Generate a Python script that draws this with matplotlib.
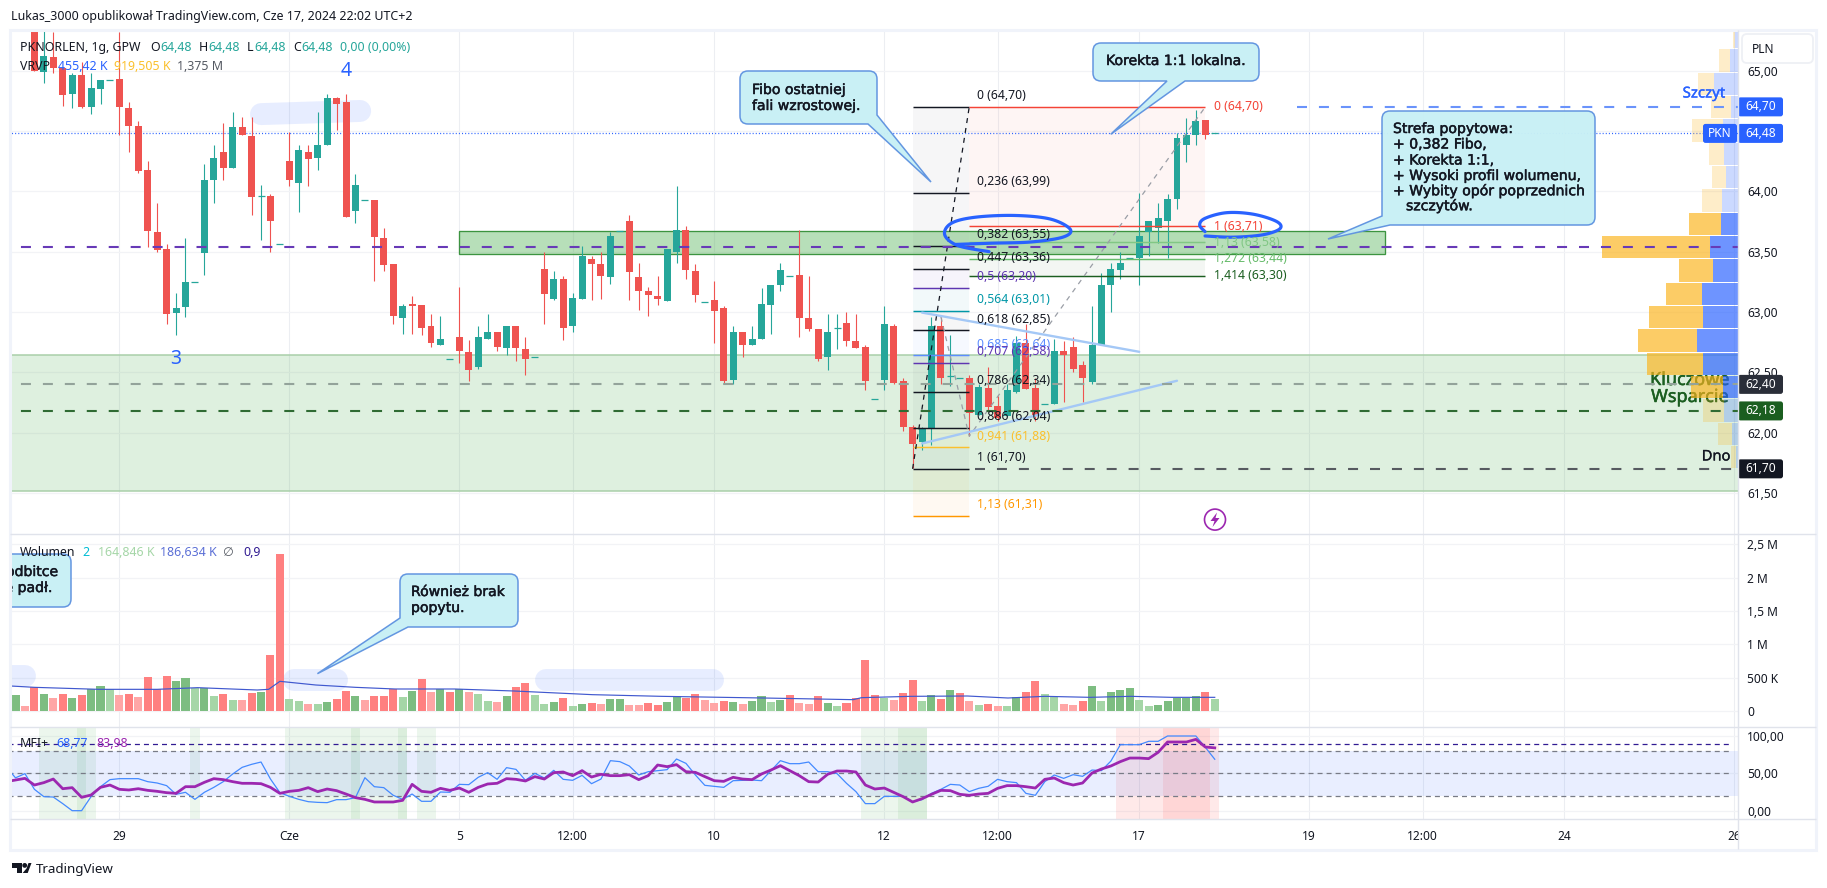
import numpy as np
import matplotlib
matplotlib.use("Agg")
import matplotlib.pyplot as plt
import matplotlib.patheffects as pe
from matplotlib.path import Path
from matplotlib.patches import PathPatch, Rectangle, Circle, Polygon, FancyBboxPatch
from matplotlib.transforms import Affine2D, blended_transform_factory, Bbox

plt.rcParams['font.family'] = ['Noto Sans', 'DejaVu Sans']
plt.rcParams['lines.scale_dashes'] = False

# ---------- data ----------
bars = np.arange(-2, 126)
opens = [65.70, 65.75,
 65.50, 64.99, 65.11, 65.02, 64.81, 64.96, 64.70, 64.85, 64.92, 64.93,
 64.69, 64.54, 64.18, 63.66, 63.52, 62.99, 63.04, 63.25, 63.49, 64.09,
 64.33, 64.19, 64.53, 64.46, 63.96, 63.96, 63.56, 64.25, 64.07, 64.33,
 64.28, 64.38, 64.77, 64.74, 63.84, 63.93, 63.93, 63.61, 63.40, 62.95,
 63.07, 63.06, 62.88, 62.73, 62.61, 62.79, 62.67, 62.54, 62.78, 62.83,
 62.70, 62.88, 62.69, 62.63, 63.36, 63.11, 63.27, 62.88, 63.11, 63.44,
 63.40, 63.29, 63.67, 63.75, 63.29, 63.17, 63.13, 63.09, 63.50, 63.68,
 63.34, 63.08, 63.10, 63.03, 62.44, 62.83, 62.73, 62.78, 63.06, 63.22,
 63.30, 63.31, 62.95, 62.86, 62.63, 62.87, 62.91, 62.76, 62.71, 62.28,
 62.44, 62.88, 62.43, 62.05, 61.92, 62.03, 62.88, 62.47, 62.45, 62.45,
 62.15, 62.37, 62.22, 62.14, 62.34, 62.74, 62.37, 62.24, 62.24, 62.68,
 62.71, 62.56, 62.42, 62.73, 63.22, 63.35, 63.45, 63.45, 63.66, 63.70,
 63.75, 63.94, 64.38, 64.47, 64.59, 64.48]
highs = [65.80, 65.90,
 65.55, 65.40, 65.32, 65.02, 64.98, 65.07, 64.98, 64.92, 64.92, 65.32,
 64.74, 64.58, 64.25, 63.90, 63.56, 63.16, 63.61, 63.25, 64.23, 64.38,
 64.57, 64.66, 64.62, 64.62, 64.05, 63.98, 63.56, 64.49, 64.38, 64.38,
 64.66, 64.81, 64.78, 64.81, 64.14, 63.93, 63.93, 63.70, 63.40, 63.07,
 63.13, 63.06, 62.98, 62.97, 62.61, 63.21, 62.77, 62.88, 62.98, 62.83,
 62.88, 62.88, 62.79, 62.63, 63.50, 63.34, 63.30, 63.16, 63.55, 63.46,
 63.50, 63.66, 63.67, 63.80, 63.41, 63.21, 63.30, 63.52, 64.04, 63.71,
 63.40, 63.08, 63.26, 63.05, 62.88, 62.83, 62.88, 63.20, 63.22, 63.41,
 63.30, 63.68, 63.30, 62.86, 62.98, 62.98, 63.00, 62.98, 62.73, 62.28,
 63.05, 62.90, 62.45, 62.06, 62.05, 62.96, 62.96, 62.81, 62.45, 62.48,
 62.40, 62.54, 62.30, 62.40, 62.80, 62.90, 62.45, 62.24, 62.78, 62.76,
 62.79, 62.59, 63.05, 63.32, 63.41, 63.50, 63.45, 63.99, 63.75, 63.90,
 63.98, 64.48, 64.61, 64.67, 64.59, 64.48]
lows = [65.60, 65.55,
 65.00, 64.90, 64.98, 64.71, 64.69, 64.69, 64.64, 64.72, 64.92, 64.47,
 64.33, 64.15, 63.54, 63.50, 62.90, 62.81, 62.96, 63.25, 63.31, 63.90,
 64.09, 64.19, 64.47, 63.80, 63.60, 63.50, 63.56, 64.04, 63.83, 64.04,
 64.18, 64.38, 64.51, 63.79, 63.74, 63.93, 63.26, 63.34, 62.90, 62.82,
 62.82, 62.81, 62.71, 62.73, 62.61, 62.58, 62.43, 62.53, 62.78, 62.68,
 62.64, 62.59, 62.48, 62.63, 62.90, 63.10, 62.77, 62.83, 63.11, 63.10,
 63.11, 63.23, 63.67, 63.10, 63.02, 62.97, 63.06, 63.09, 63.41, 63.27,
 63.08, 63.08, 62.74, 62.40, 62.40, 62.63, 62.73, 62.78, 62.82, 63.17,
 63.30, 62.79, 62.84, 62.59, 62.52, 62.69, 62.72, 62.70, 62.35, 62.28,
 62.35, 62.40, 62.01, 61.71, 61.86, 61.90, 62.40, 62.39, 62.45, 61.97,
 62.15, 62.19, 62.10, 62.14, 62.33, 62.36, 62.10, 62.24, 62.24, 62.25,
 62.50, 62.25, 62.40, 62.73, 63.00, 63.27, 63.45, 63.22, 63.46, 63.57,
 63.45, 63.85, 64.24, 64.38, 64.43, 64.48]
closes = [65.75, 65.60,
 65.00, 65.12, 65.02, 64.80, 64.96, 64.70, 64.86, 64.92, 64.92, 64.70,
 64.54, 64.17, 63.67, 63.51, 62.98, 63.03, 63.25, 63.25, 64.09, 64.28,
 64.19, 64.53, 64.47, 63.95, 63.96, 63.75, 63.56, 64.09, 64.34, 64.27,
 64.38, 64.77, 64.72, 63.79, 64.05, 63.93, 63.62, 63.39, 62.97, 63.05,
 63.05, 62.87, 62.74, 62.78, 62.61, 62.68, 62.52, 62.79, 62.83, 62.71,
 62.88, 62.70, 62.61, 62.63, 63.15, 63.27, 62.87, 63.12, 63.46, 63.40,
 63.30, 63.63, 63.67, 63.33, 63.17, 63.14, 63.11, 63.52, 63.68, 63.35,
 63.14, 63.08, 63.01, 62.43, 62.83, 62.73, 62.78, 63.07, 63.22, 63.35,
 63.30, 62.95, 62.86, 62.61, 62.83, 62.87, 62.76, 62.70, 62.43, 62.28,
 62.90, 62.41, 62.05, 61.91, 62.03, 62.88, 62.45, 62.47, 62.45, 62.16,
 62.38, 62.21, 62.12, 62.35, 62.74, 62.36, 62.15, 62.24, 62.68, 62.64,
 62.53, 62.45, 62.73, 63.22, 63.36, 63.41, 63.45, 63.63, 63.75, 63.78,
 63.94, 64.44, 64.47, 64.58, 64.47, 64.48]

volumes_k = [240, 75,
 355, 255, 195, 255, 195, 240, 330, 375, 330, 240,
 255, 210, 510, 330, 525, 450, 495, 345, 345, 225,
 255, 165, 165, 270, 285, 840, 2355, 180, 150, 105,
 105, 135, 180, 300, 225, 165, 225, 225, 330, 210,
 300, 480, 285, 330, 285, 330, 285, 255, 150, 135,
 225, 360, 420, 240, 105, 135, 195, 75, 105, 120,
 105, 180, 180, 90, 90, 120, 90, 135, 225, 195,
 255, 165, 120, 150, 135, 105, 150, 225, 135, 165,
 240, 120, 105, 225, 120, 75, 120, 195, 765, 240,
 195, 165, 270, 465, 150, 240, 180, 315, 270, 150,
 90, 105, 75, 75, 210, 285, 450, 255, 210, 105,
 90, 150, 375, 150, 285, 315, 345, 165, 75, 90,
 150, 195, 195, 225, 285, 180]
# G/g = rising (strong/weak), R/r = falling (strong/weak)
volume_kinds = ("Gr"
 "RGrRGRGGgr" "RrRRRGGgGg" "RgrRGRRggr" "gGRRGrRRRg" "GRrGRGrggr"
 "GRRggGRgGR" "rGGrrRRGGR" "RrrRGrGGgG" "RrrRGgRRRR" "grRRgGRGRr"
 "gRrgGRRggr" "rRGgGGGggG" "GGGGRg")
vol_ma_bars = [-2.5, 0, 6.8, 13, 17.3, 23.6, 24.8, 26, 29.8, 34, 38.2, 44.5, 50.8, 59.1,
               66.4, 77.2, 86.7, 87.6, 92.8, 98.8, 103.1, 107, 111.8, 116.1, 120.4, 125]
vol_ma_k = [375, 355, 325, 325, 350, 315, 325, 445, 390, 355, 330, 330, 300, 245,
            220, 195, 170, 200, 220, 225, 195, 220, 205, 220, 205, 205]

mfi_bars = np.arange(-3, 126)
mfi_values = [58.9, 44, 49.6,
 28.7, 18.9, 18.4, 9.6, 0.2, 0.2, 18.9, 32.2, 41.6, 42.9,
 42.9, 42.9, 38.9, 37.1, 33.6, 22, 24.7, 15.3, 24.7, 31.3,
 38.9, 49.1, 58, 62, 65.1, 42.4, 24.2, 19.3, 15.3, 12.2,
 11.3, 10.9, 14.9, 14.9, 17.6, 44.2, 32.2, 30.9, 20.7, 15.3,
 22.4, 12.7, 12.7, 25.1, 24.7, 35.3, 34.9, 44.7, 50.9, 42,
 57.6, 55.3, 40.7, 50, 43.8, 54, 42, 40.7, 47.3, 36.2,
 42.4, 66.9, 65.6, 59.8, 47.8, 52.2, 53.6, 54.9, 69.1, 63.3,
 47.8, 34, 32.7, 31.3, 40.2, 40.7, 41.1, 40.2, 53.6, 66.9,
 62.9, 62.9, 65.1, 52.2, 52.2, 49.6, 36.7, 25.6, 9.6, 9.6,
 19.3, 19.3, 19.3, 12.2, 14.9, 23.3, 28.7, 35.3, 34.4, 25.6,
 30, 32.7, 42, 38.9, 37.6, 23.3, 20.7, 38.9, 47.8, 43.3,
 48.2, 46, 54.4, 53.6, 66.4, 88.2, 88.2, 88.2, 92.7, 92.7,
 99.8, 99.8, 99.8, 99.8, 84.7, 68.77]
mfi_smooth = [38.9, 41.1, 43.3,
 34.4, 37.6, 42.4, 29.5, 30.9, 18, 21.1, 31.3, 34.4, 28.7,
 27.8, 29.5, 27.3, 26, 24.2, 23.3, 32.2, 32.2, 38, 42.9,
 41.6, 38.9, 36.7, 36.7, 36.2, 31.3, 23.3, 26, 27.3, 30.9,
 25.6, 29.1, 26.9, 22.4, 17.6, 15.3, 11.8, 11.8, 11.8, 14,
 35.3, 26, 24.7, 30, 27.3, 30.4, 24.7, 31.3, 35.8, 36.7,
 42.9, 42, 39.8, 45.6, 42.4, 50.9, 51.8, 46.9, 53.6, 45.1,
 48.7, 46.9, 46.9, 48.2, 41.6, 46.9, 61.1, 58.9, 61.6, 52.2,
 51.3, 45.6, 40.2, 39.3, 44.7, 42.4, 41.6, 49.1, 54.4, 60.2,
 53.6, 46.9, 38.9, 38.4, 48.7, 53.1, 53.1, 51.8, 34.4, 29.1,
 30.4, 24.7, 18.9, 11.8, 16.2, 22, 27.3, 26.9, 22, 20.7,
 22.4, 23.3, 30, 33.6, 33.6, 32.2, 30.4, 42, 43.8, 37.6,
 34.4, 37.1, 50.4, 55.8, 59.8, 65.6, 70.4, 70.4, 69.6, 78,
 91.8, 91.8, 91.8, 95.3, 85.1, 83.98]
mfi_low_bars = [1, 2, 3, 4, 5, 6, 17] + list(range(27, 40)) + [41, 42, 88, 89, 90, 91, 92, 93, 94]
mfi_low_strong_bars = [5, 34, 39, 92, 93, 94]
mfi_high_bars = [115, 116, 117, 118, 119, 120, 121, 122, 123, 124, 125]
mfi_high_strong_bars = [120, 121, 122, 123, 124]

# volume profile, rows from the bottom up
vp_start = 61.70
vp_step = 0.1934
vp_up_k = [3, 9, 20, 21, 50, 58, 50, 51, 36, 40, 24, 23, 17, 20, 21, 10, 34, 11, 4]
vp_down_k = [7, 19, 30, 46, 80, 84, 77, 51, 48, 154, 46, 29, 20, 21, 44, 29, 23, 16, 3]
vp_value_area = [0, 0, 0, 1, 1, 1, 1, 1, 1, 1, 1, 0, 0, 0, 0, 0, 0, 0, 0]

# fibonacci retracement
fib_levels = ["0", "0,236", "0,382", "0,447", "0,5", "0,564", "0,618", "0,685", "0,707",
              "0,786", "0,886", "0,941", "1", "1,13"]
fib_prices = [64.70, 63.99, 63.55, 63.36, 63.20, 63.01, 62.85, 62.64, 62.58, 62.34, 62.04, 61.88, 61.70, 61.31]
fib_colors = ["#131722", "#131722", "#131722", "#131722", "#5e35b1", "#0097a7", "#131722", "#5c8dff",
              "#5e35b1", "#131722", "#131722", "#fbc02d", "#131722", "#ff9800"]
fib_x = [93, 99]
# trend based extension
ext_levels = ["0", "1", "1,13", "1,272", "1,414"]
ext_prices = [64.70, 63.71, 63.58, 63.44, 63.30]
ext_colors = ["#f44336", "#f44336", "#81c784", "#66bb6a", "#1b5e20"]
ext_x = [99, 124]

time_ticks = [9, 27, 45, 57, 72, 90, 102, 117, 135, 147, 162, 180]
time_labels = ["29", "Cze", "5", "12:00", "10", "12", "12:00", "17", "19", "12:00", "24", "26"]
price_ticks = [65.0, 64.5, 64.0, 63.5, 63.0, 62.5, 62.0, 61.5]
vol_ticks = [0, 500, 1000, 1500, 2000, 2500]
vol_tick_labels = ["0", "500 K", "1 M", "1,5 M", "2 M", "2,5 M"]
mfi_ticks = [0, 50, 100]
mfi_tick_labels = ["0,00", "50,00", "100,00"]

# ---------- figure ----------
W, H = 1827, 888
fig = plt.figure(figsize=(W / 100, H / 100), dpi=100, facecolor='white')
P = Affine2D().scale(1, -1).translate(0, H)   # top-left pixel coordinates
LEFT, RIGHT = 10, 1738
TOP, SPLIT1, SPLIT2, BOTTOM = 30, 534, 726.7, 819.3

def add_pane(y0, y1):
    return fig.add_axes([LEFT / W, 1 - y1 / H, (RIGHT - LEFT) / W, (y1 - y0) / H])

ax = add_pane(TOP, SPLIT1)
av = add_pane(SPLIT1, SPLIT2)
am = add_pane(SPLIT2, BOTTOM)
XLIM = (-2.584, 180.41)
GRID = '#f2f3f6'
VGRID = '#eceef2'
TICKC = '#131722'
for a in (ax, av, am):
    a.set_xlim(*XLIM)
    a.set_xticks(time_ticks)
    a.grid(True, axis='x', color=VGRID, lw=0.75)
    a.grid(True, axis='y', color=GRID, lw=0.9)
    a.set_axisbelow(True)
    a.yaxis.tick_right()
    a.tick_params(axis='y', length=0, pad=6.4, labelsize=8.6, labelcolor=TICKC)
    a.tick_params(axis='x', length=0)
    for s in a.spines.values():
        s.set_visible(False)
ax.set_ylim(61.16, 65.337)
av.set_ylim(-235.5, 2655)
am.set_ylim(-11.3, 112.2)
ax.set_xticklabels([]); av.set_xticklabels([])
am.set_xticklabels(time_labels, fontsize=8.6, color=TICKC)
am.tick_params(axis='x', pad=8)
ax.set_yticks(price_ticks)
ax.set_yticklabels([f"{t:.2f}".replace('.', ',') for t in price_ticks])
av.set_yticks(vol_ticks); av.set_yticklabels(vol_tick_labels)
am.set_yticks(mfi_ticks); am.set_yticklabels(mfi_tick_labels)
clip_bb = Bbox([[0, 0], [RIGHT, H]])
for lab in am.get_xticklabels():
    lab.set_clip_on(True)
    lab.set_clip_box(clip_bb)

def T(a, x, y, s, color='#131722', size=8.6, ha='left', z=9, clip=False, family=None, stroke=0):
    kw = {}
    if family:
        kw['family'] = family
    t = a.text(x, y, s, color=color, fontsize=size, ha=ha, va='center',
               transform=P, zorder=z, clip_on=clip, **kw)
    if stroke:
        t.set_path_effects([pe.withStroke(linewidth=stroke, foreground=color)])
    return t

# ---------- price pane ----------
RED, GREEN = '#ef5350', '#26a69a'
o, h, l, c = map(np.array, (opens, highs, lows, closes))
col = np.where(c < o, RED, GREEN)

ax.axhspan(61.52, 62.64, facecolor='#4caf50', alpha=0.18, lw=0, zorder=1)
for p in (61.52, 62.64):
    ax.axhline(p, color='#a9cfa9', lw=1.1, zorder=1.1)
ax.add_patch(Rectangle((45, 63.48), 98, 0.19, facecolor='#4caf50', alpha=0.4, lw=0, zorder=1.6))
ax.add_patch(Rectangle((45, 63.48), 98, 0.19, fill=False, edgecolor='#3c9440', lw=0.95, zorder=1.7))

# fib fills
for i in range(len(fib_prices) - 1):
    alpha = 0.035 if fib_colors[i + 1] == '#131722' else 0.05
    ax.fill_between(fib_x, fib_prices[i], fib_prices[i + 1], color=fib_colors[i + 1], alpha=alpha, lw=0, zorder=1.4)
for i in range(len(ext_prices) - 1):
    ax.fill_between(ext_x, ext_prices[i], ext_prices[i + 1], color=ext_colors[i + 1], alpha=0.05, lw=0, zorder=1.4)

# candles
ax.vlines(bars, l, h, colors=col, lw=0.8, zorder=3)
body = np.abs(c - o)
ax.bar(bars[body > 0], body[body > 0], bottom=np.minimum(o, c)[body > 0], width=0.74,
       color=col[body > 0], lw=0, zorder=3.1)
ax.hlines(o[body == 0], bars[body == 0] - 0.37, bars[body == 0] + 0.37, colors=col[body == 0], lw=0.9, zorder=3.1)

# fib lines and labels
for name, p, cc in zip(fib_levels, fib_prices, fib_colors):
    ax.plot(fib_x, [p, p], color=cc, lw=1.05, zorder=4, solid_capstyle='butt')
    ax.annotate(f"{name} ({p:.2f})".replace('.', ','), (fib_x[1], p), xytext=(7.3, 11),
                textcoords='offset pixels', color=cc, fontsize=8.8, va='center', zorder=6.5)
for name, p, cc in zip(ext_levels, ext_prices, ext_colors):
    ax.plot(ext_x, [p, p], color=cc, lw=1.05, zorder=4, solid_capstyle='butt')
    ax.annotate(f"{name} ({p:.2f})".replace('.', ','), (ext_x[1], p), xytext=(8.3, 0),
                textcoords='offset pixels', color=cc, fontsize=8.8, va='center', zorder=6.5)
ax.plot([93, 99], [61.70, 64.70], color='#131722', lw=0.9, ls=(0, (3.6, 3.6)), zorder=4.2)
ax.plot([96, 99, 124], [62.96, 61.97, 64.70], color='#9a9ea6', lw=0.9, ls=(0, (3.6, 3.6)), zorder=4.2)

# triangle
ax.plot([94, 117], [62.995, 62.67], color='#a4c8f6', lw=1.7, zorder=4.3, solid_capstyle='round')
ax.plot([94, 121], [61.91, 62.43], color='#a4c8f6', lw=1.7, zorder=4.3, solid_capstyle='round')

# highlighter stroke
ax.plot([24, 34.5], [64.64, 64.666], color='#2962ff', alpha=0.11, lw=15.8, solid_capstyle='round', zorder=2)

# volume profile
vp_tr = blended_transform_factory(Affine2D().scale(-0.7018, 1).translate(RIGHT, 0), ax.transData)
vp_y = vp_start + vp_step * (np.arange(len(vp_up_k)) + 0.5)
up, dn, va = np.array(vp_up_k), np.array(vp_down_k), np.array(vp_value_area)
ax.barh(vp_y, up, height=vp_step * 0.95, color='#2962ff', transform=vp_tr, lw=0, zorder=4.7)
ax.barh(vp_y, dn, left=up, height=vp_step * 0.95, color='#fbb41e', transform=vp_tr, lw=0, zorder=4.7)
for art in ax.containers[-2:]:
    for r, v in zip(art.patches, va):
        r.set_alpha(0.68 if v else 0.24)

# horizontal dashed lines
DASH = (0, (7.2, 8.6))
ax.plot([-5, 190], [63.54, 63.54], color='#673ab7', lw=1.5, ls=DASH, zorder=5)
ax.plot([-5, 190], [62.40, 62.40], color='#93a39a', lw=1.5, ls=DASH, zorder=5)
ax.plot([-5, 190], [62.18, 62.18], color='#2f6b33', lw=1.5, ls=DASH, zorder=5)
ax.plot([99.6, 181], [61.70, 61.70], color='#565a60', lw=1.5, ls=DASH, zorder=5)
ax.plot([133.7, 181], [64.70, 64.70], color='#6a93fb', lw=1.5, ls=DASH, zorder=5)
ax.plot([-5, 190], [64.48, 64.48], color='#2962ff', lw=0.9, ls=(0, (0.75, 1.5)), zorder=2.5)

# brush ellipses
def smooth(pts, n=10):
    pts = np.array(pts, float)
    q = np.vstack([pts[0], pts, pts[-1]])
    out = []
    for i in range(1, len(q) - 2):
        for t in np.linspace(0, 1, n, endpoint=False):
            out.append(0.5 * ((2 * q[i]) + (-q[i - 1] + q[i + 1]) * t
                              + (2 * q[i - 1] - 5 * q[i] + 4 * q[i + 1] - q[i + 2]) * t ** 2
                              + (-q[i - 1] + 3 * q[i] - 3 * q[i + 1] + q[i + 2]) * t ** 3))
    out.append(pts[-1])
    return np.array(out)

brush_a = [(101.1, 63.50), (97.8, 63.55), (96.4, 63.64), (97.1, 63.735), (99.6, 63.785), (103.8, 63.80),
           (107.6, 63.77), (109.7, 63.685), (108.9, 63.62), (105.5, 63.58), (101.3, 63.57), (97.6, 63.56)]
brush_b = [(123.97, 63.666), (123.4, 63.72), (123.97, 63.776), (126.26, 63.823), (129.1, 63.81),
           (131.55, 63.75), (131.9, 63.69), (130.1, 63.64), (126.97, 63.62), (123.97, 63.63)]
for b in (brush_a, brush_b):
    s = smooth(b)
    ax.plot(s[:, 0], s[:, 1], color='#2962ff', lw=2.3, zorder=6, solid_capstyle='round')

# numbers and labels
T(ax, 176, 359, "3", '#2962ff', 14, ha='center')
T(ax, 346, 71, "4", '#2962ff', 14, ha='center')
T(ax, 1704, 94, "Szczyt", '#2962ff', 10.8, ha='center', z=7, stroke=0.25)
T(ax, 1690, 380, "Kluczowe", '#1b5e20', 13, ha='center', z=4.4, stroke=0.35)
T(ax, 1690, 397, "Wsparcie", '#1b5e20', 13, ha='center', z=4.4, stroke=0.35)
T(ax, 1716, 457, "Dno", '#131722', 10.6, ha='center', z=7, stroke=0.2)

# rounded callouts
def rounded(points, r):
    verts, codes = [], []
    n = len(points)
    for i, (x, y, rnd) in enumerate(points):
        p = np.array([x, y], float)
        if rnd:
            a = np.array(points[i - 1][:2], float) - p
            b = np.array(points[(i + 1) % n][:2], float) - p
            s0 = p + a / np.hypot(*a) * r
            s1 = p + b / np.hypot(*b) * r
            verts += [s0, p, s1]
            codes += [Path.MOVETO if i == 0 else Path.LINETO, Path.CURVE3, Path.CURVE3]
        else:
            verts.append(p)
            codes.append(Path.MOVETO if i == 0 else Path.LINETO)
    verts.append(verts[0]); codes.append(Path.CLOSEPOLY)
    return Path(np.array(verts), codes)

def callout(a, pts, r=8):
    a.add_patch(PathPatch(rounded(pts, r), facecolor='#c8f0f5', edgecolor='#5f93e0', lw=1.1,
                          transform=P, zorder=7.5, alpha=0.97))

BT = dict(size=10.1, z=8, color='#131722', family=['DejaVu Sans'], stroke=0.35)
callout(ax, [(740, 71, 1), (877, 71, 1), (877, 115, 0), (931, 182, 0), (868, 124, 0), (740, 124, 1)])
T(ax, 752, 90, "Fibo ostatniej", **BT); T(ax, 752, 106, "fali wzrostowej.", **BT)
callout(ax, [(1093, 43, 1), (1259, 43, 1), (1259, 81, 1), (1185, 81, 0), (1110.7, 134.3, 0), (1167, 81, 0), (1093, 81, 1)])
T(ax, 1106, 61, "Korekta 1:1 lokalna.", **BT)
callout(ax, [(1382, 111, 1), (1595, 111, 1), (1595, 225, 1), (1390, 225, 0), (1328, 239, 0), (1382, 216, 0)])
for yy, xx, s in [(129, 1393, "Strefa popytowa:"), (144.5, 1393, "+ 0,382 Fibo,"), (160.5, 1393, "+ Korekta 1:1,"),
                  (176, 1393, "+ Wysoki profil wolumenu,"), (191, 1393, "+ Wybity opór poprzednich"),
                  (206, 1406, "szczytów.")]:
    T(ax, xx, yy, s, **BT)

# lightning icon
ax.add_patch(Circle((1215, 519.6), 10.5, facecolor='white', edgecolor='#9c27b0', lw=1.2, transform=P, zorder=6))
ax.add_patch(Polygon([(1217, 512.5), (1210.5, 521), (1214.5, 521), (1212.5, 527), (1219.5, 518), (1215.5, 518)],
                     facecolor='#9c27b0', lw=0, transform=P, zorder=6.1))

# price tags
def tag(price, text, color, x0=RIGHT, x1=1783):
    y = H - ax.transData.transform((0, price))[1]
    ax.add_patch(FancyBboxPatch((x0 + 1.5, y - 8), x1 - x0 - 3, 16, boxstyle='round,pad=1.5,rounding_size=2.5',
                                facecolor=color, edgecolor='none', transform=P, zorder=10, clip_on=False))
    T(ax, (x0 + x1) / 2, y, text, 'white', 8.6, ha='center', z=11)

tag(64.70, "64,70", '#2962ff')
tag(64.48, "64,48", '#2962ff')
tag(64.48, "PKN", '#2962ff', 1703, 1737)
tag(62.40, "62,40", '#2a2e39')
tag(62.18, "62,18", '#1b5e20')
tag(61.70, "61,70", '#131722')

# legends
T(ax, 20, 47, "PKNORLEN, 1g, GPW", '#131722', 8.9)
for x, s, cc in [(150, "O", TICKC), (160, "64,48", GREEN), (199, "H", TICKC), (208, "64,48", GREEN),
                 (247, "L", TICKC), (254, "64,48", GREEN), (293, "C", TICKC), (301, "64,48", GREEN),
                 (340, "0,00 (0,00%)", GREEN)]:
    T(ax, x, 47, s, cc, 8.9)
T(ax, 20, 66, "VRVP", '#131722', 8.9)
T(ax, 58, 66, "455,42 K", '#2962ff', 8.9)
T(ax, 114, 66, "919,505 K", '#fbc02d', 8.9)
T(ax, 177, 66, "1,375 M", '#555a63', 8.9)

# ---------- volume pane ----------
VCOL = {'G': '#7dbd81', 'g': '#a5d6a7', 'R': '#ff8080', 'r': '#ffa6a6'}
av.bar(bars, volumes_k, width=0.85, color=[VCOL[k] for k in volume_kinds], lw=0, zorder=2)
av.plot(vol_ma_bars, vol_ma_k, color='#4058cf', lw=0.85, zorder=3)
for xs, yy in [([-4, -1], 525), ([27.5, 32], 465), ([54.2, 71.9], 465)]:
    av.plot(xs, [yy, yy], color='#2962ff', alpha=0.11, lw=15.8, solid_capstyle='round', zorder=1.5)
callout(av, [(-30, 554, 1), (71, 554, 1), (71, 607, 1), (-30, 607, 1)])
T(av, 6, 572, "odbitce", clip=True, **BT); T(av, 4.5, 588, "e padł.", clip=True, **BT)
callout(av, [(400, 574, 1), (518, 574, 1), (518, 627, 1), (408, 627, 0), (317.4, 673.7, 0), (400, 618, 0)])
T(av, 411, 592, "Również brak", **BT); T(av, 411, 608, "popytu.", **BT)
T(av, 20, 552, "Wolumen", '#131722', 8.9)
T(av, 82, 552, "2", '#00bcd4', 8.9)
T(av, 98, 552, "164,846 K", '#a5d6a7', 8.9)
T(av, 160, 552, "186,634 K", '#5b6fd6', 8.9)
T(av, 222, 552, "∅", '#555a63', 8.9, family=['DejaVu Sans'])
T(av, 243, 552, "0,9", '#311b92', 8.9)

# ---------- MFI pane ----------
for b in mfi_low_bars:
    am.axvspan(b - 0.5, b + 0.5, color='#4caf50', alpha=0.1, lw=0, zorder=1)
for b in mfi_low_strong_bars:
    am.axvspan(b - 0.5, b + 0.5, color='#4caf50', alpha=0.1, lw=0, zorder=1)
for b in mfi_high_bars:
    am.axvspan(b - 0.5, b + 0.5, color='#ff5252', alpha=0.12, lw=0, zorder=1)
for b in mfi_high_strong_bars:
    am.axvspan(b - 0.5, b + 0.5, color='#ff5252', alpha=0.12, lw=0, zorder=1)
am.axhspan(20, 80, color='#2962ff', alpha=0.1, lw=0, zorder=1.2)
MD = (0, (3.6, 2.9))
am.plot([-5, 179.8], [88.7, 88.7], color='#311b92', lw=0.9, ls=MD, zorder=2)
for lv in (80, 50, 20):
    am.plot([-5, 179.8], [lv, lv], color='#787b86', lw=0.9, ls=MD, zorder=2)
am.plot(mfi_bars, mfi_values, color='#448aff', lw=0.9, zorder=3)
am.plot(mfi_bars, mfi_smooth, color='#9c27b0', lw=2.0, zorder=3.2, solid_joinstyle='round')
T(am, 20, 743, "MFI+", '#131722', 8.9)
T(am, 56, 743, "68,77", '#2962ff', 8.9)
T(am, 96, 743, "83,98", '#9c27b0', 8.9)

# ---------- chrome ----------
def rect(x0, y0, x1, y1, **kw):
    fig.add_artist(Rectangle((x0, y0), x1 - x0, y1 - y0, transform=P, **kw))

rect(10, 29.5, 1816, 849.5, fill=False, edgecolor='#f0f3fa', lw=2.2, zorder=5)
for yy in (SPLIT1, SPLIT2, BOTTOM):
    rect(10, yy, 1816, yy, fill=False, edgecolor='#e0e3eb', lw=1.0, zorder=5)
rect(RIGHT, 30, RIGHT, 849, fill=False, edgecolor='#e0e3eb', lw=1.0, zorder=5)
fig.add_artist(FancyBboxPatch((1742, 34), 71, 29, boxstyle='round,pad=0,rounding_size=5', transform=P,
                              facecolor='white', edgecolor='#eef0f5', lw=1.3, zorder=6))
fig.text(1763, 49, "PLN", transform=P, ha='center', va='center', fontsize=8.6, color='#131722', zorder=7)
fig.text(11, 16, "Lukas_3000 opublikował TradingView.com, Cze 17, 2024 22:02 UTC+2", transform=P,
         va='center', fontsize=8.95, color='#131722')
fig.add_artist(Polygon([(12, 863), (22, 863), (22, 873), (17, 873), (17, 867.5), (12, 867.5)],
                       facecolor='#131722', lw=0, transform=P))
fig.add_artist(Circle((24.7, 865.4), 2.4, facecolor='#131722', lw=0, transform=P))
fig.add_artist(Polygon([(26.5, 868.5), (28.5, 863), (31.5, 863), (27.7, 873), (22.7, 873)],
                       facecolor='#131722', lw=0, transform=P))
fig.text(36, 869, "TradingView", transform=P, va='center', fontsize=9.6, color='#131722')

fig.savefig('out.png', dpi=100)
